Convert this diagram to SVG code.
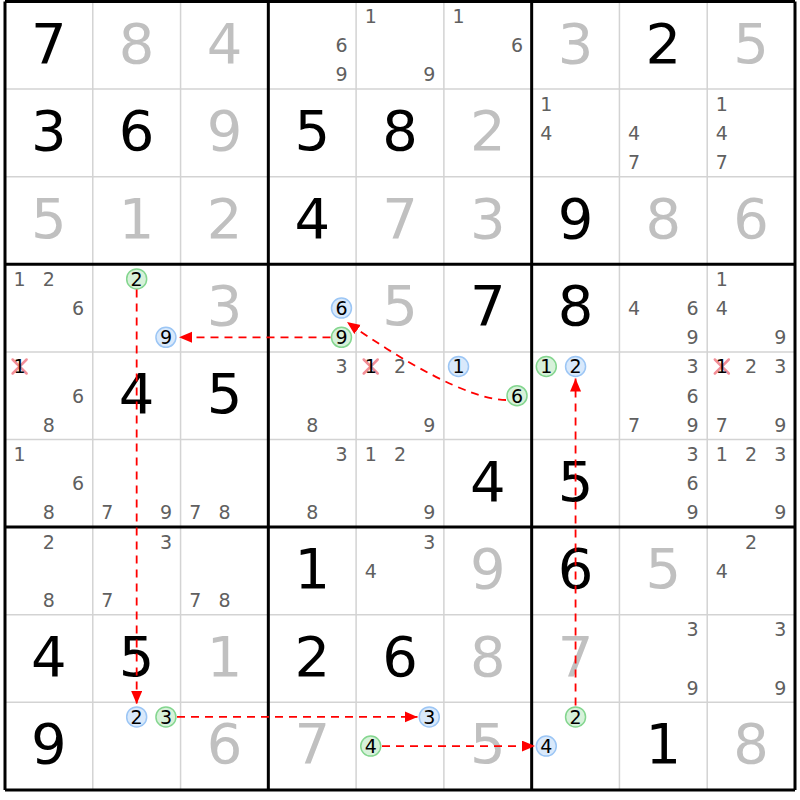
<svg xmlns="http://www.w3.org/2000/svg" width="800" height="800" viewBox="0 0 800 800">
<style>
text{font-family:"DejaVu Sans","Liberation Sans",sans-serif;text-anchor:middle}
.g{font-size:56px;fill:#000}
.s{font-size:56px;fill:#c0c0c0}
.c{font-size:19px;fill:#606060}
.k{font-size:19px;fill:#000}
.thin{stroke:#d3d3d3;stroke-width:1.5}
.thick{stroke:#000;stroke-width:3}
.bl{fill:#d9e9fb;stroke:#9cc6f5;stroke-width:1.5}
.gr{fill:#d7f1da;stroke:#84d68f;stroke-width:1.5}
.x{stroke:#f28e98;stroke-width:2.5;stroke-linecap:round}
.arr{fill:none;stroke:#f00;stroke-width:1.8;stroke-dasharray:8,6;marker-end:url(#ah)}
</style>
<defs>
<marker id="ah" markerUnits="userSpaceOnUse" markerWidth="14" markerHeight="12" refX="13" refY="5.5" orient="auto">
<path d="M0,0 L13,5.5 L0,11 Z" fill="#f00"/>
</marker>
</defs>
<rect x="0" y="0" width="800" height="800" fill="#fff"/>
<g id="grid">
<path class="thin" d="M92.78,1.5V789.9M180.56,1.5V789.9M356.11,1.5V789.9M443.89,1.5V789.9M619.44,1.5V789.9M707.22,1.5V789.9M5,89.1H795M5,176.7H795M5,351.9H795M5,439.5H795M5,614.7H795M5,702.3H795"/>
<path class="thick" d="M5,1.5V789.9M268.33,1.5V789.9M531.67,1.5V789.9M795,1.5V789.9M5,1.5H795M5,264.3H795M5,527.1H795M5,789.9H795"/>
</g>
<g id="r0">
<g id="r0c0"><text class="g" x="48.89" y="62.5">7</text></g>
<g id="r0c1"><text class="s" x="136.67" y="62.5">8</text></g>
<g id="r0c2"><text class="s" x="224.45" y="62.5">4</text></g>
<g id="r0c3"><text class="c" x="341.48" y="52.2">6</text><text class="c" x="341.48" y="81.4">9</text></g>
<g id="r0c4"><text class="c" x="370.74" y="23">1</text><text class="c" x="429.26" y="81.4">9</text></g>
<g id="r0c5"><text class="c" x="458.52" y="23">1</text><text class="c" x="517.04" y="52.2">6</text></g>
<g id="r0c6"><text class="s" x="575.56" y="62.5">3</text></g>
<g id="r0c7"><text class="g" x="663.33" y="62.5">2</text></g>
<g id="r0c8"><text class="s" x="751.11" y="62.5">5</text></g>
</g>
<g id="r1">
<g id="r1c0"><text class="g" x="48.89" y="150.1">3</text></g>
<g id="r1c1"><text class="g" x="136.67" y="150.1">6</text></g>
<g id="r1c2"><text class="s" x="224.45" y="150.1">9</text></g>
<g id="r1c3"><text class="g" x="312.22" y="150.1">5</text></g>
<g id="r1c4"><text class="g" x="400" y="150.1">8</text></g>
<g id="r1c5"><text class="s" x="487.78" y="150.1">2</text></g>
<g id="r1c6"><text class="c" x="546.3" y="110.6">1</text><text class="c" x="546.3" y="139.8">4</text></g>
<g id="r1c7"><text class="c" x="634.07" y="139.8">4</text><text class="c" x="634.07" y="169">7</text></g>
<g id="r1c8"><text class="c" x="721.85" y="110.6">1</text><text class="c" x="721.85" y="139.8">4</text><text class="c" x="721.85" y="169">7</text></g>
</g>
<g id="r2">
<g id="r2c0"><text class="s" x="48.89" y="237.7">5</text></g>
<g id="r2c1"><text class="s" x="136.67" y="237.7">1</text></g>
<g id="r2c2"><text class="s" x="224.45" y="237.7">2</text></g>
<g id="r2c3"><text class="g" x="312.22" y="237.7">4</text></g>
<g id="r2c4"><text class="s" x="400" y="237.7">7</text></g>
<g id="r2c5"><text class="s" x="487.78" y="237.7">3</text></g>
<g id="r2c6"><text class="g" x="575.56" y="237.7">9</text></g>
<g id="r2c7"><text class="s" x="663.33" y="237.7">8</text></g>
<g id="r2c8"><text class="s" x="751.11" y="237.7">6</text></g>
</g>
<g id="r3">
<g id="r3c0"><text class="c" x="19.63" y="285.8">1</text><text class="c" x="48.89" y="285.8">2</text><text class="c" x="78.15" y="315">6</text></g>
<g id="r3c1"><circle class="gr" cx="136.67" cy="278.9" r="10"/><text class="k" x="136.67" y="285.8">2</text><circle class="bl" cx="165.93" cy="337.3" r="10"/><text class="k" x="165.93" y="344.2">9</text></g>
<g id="r3c2"><text class="s" x="224.45" y="325.3">3</text></g>
<g id="r3c3"><circle class="bl" cx="341.48" cy="308.1" r="10"/><text class="k" x="341.48" y="315">6</text><circle class="gr" cx="341.48" cy="337.3" r="10"/><text class="k" x="341.48" y="344.2">9</text></g>
<g id="r3c4"><text class="s" x="400" y="325.3">5</text></g>
<g id="r3c5"><text class="g" x="487.78" y="325.3">7</text></g>
<g id="r3c6"><text class="g" x="575.56" y="325.3">8</text></g>
<g id="r3c7"><text class="c" x="634.07" y="315">4</text><text class="c" x="692.59" y="315">6</text><text class="c" x="692.59" y="344.2">9</text></g>
<g id="r3c8"><text class="c" x="721.85" y="285.8">1</text><text class="c" x="721.85" y="315">4</text><text class="c" x="780.37" y="344.2">9</text></g>
</g>
<g id="r4">
<g id="r4c0"><path class="x" d="M12.6,359.5L26.6,373.5M26.6,359.5L12.6,373.5"/><text class="k" x="19.63" y="373.4">1</text><text class="c" x="78.15" y="402.6">6</text><text class="c" x="48.89" y="431.8">8</text></g>
<g id="r4c1"><text class="g" x="136.67" y="412.9">4</text></g>
<g id="r4c2"><text class="g" x="224.45" y="412.9">5</text></g>
<g id="r4c3"><text class="c" x="341.48" y="373.4">3</text><text class="c" x="312.22" y="431.8">8</text></g>
<g id="r4c4"><path class="x" d="M363.7,359.5L377.7,373.5M377.7,359.5L363.7,373.5"/><text class="k" x="370.74" y="373.4">1</text><text class="c" x="400" y="373.4">2</text><text class="c" x="429.26" y="431.8">9</text></g>
<g id="r4c5"><circle class="bl" cx="458.52" cy="366.5" r="10"/><text class="k" x="458.52" y="373.4">1</text><circle class="gr" cx="517.04" cy="395.7" r="10"/><text class="k" x="517.04" y="402.6">6</text></g>
<g id="r4c6"><circle class="gr" cx="546.3" cy="366.5" r="10"/><text class="k" x="546.3" y="373.4">1</text><circle class="bl" cx="575.56" cy="366.5" r="10"/><text class="k" x="575.56" y="373.4">2</text></g>
<g id="r4c7"><text class="c" x="692.59" y="373.4">3</text><text class="c" x="692.59" y="402.6">6</text><text class="c" x="634.07" y="431.8">7</text><text class="c" x="692.59" y="431.8">9</text></g>
<g id="r4c8"><path class="x" d="M714.8,359.5L728.8,373.5M728.8,359.5L714.8,373.5"/><text class="k" x="721.85" y="373.4">1</text><text class="c" x="751.11" y="373.4">2</text><text class="c" x="780.37" y="373.4">3</text><text class="c" x="721.85" y="431.8">7</text><text class="c" x="780.37" y="431.8">9</text></g>
</g>
<g id="r5">
<g id="r5c0"><text class="c" x="19.63" y="461">1</text><text class="c" x="78.15" y="490.2">6</text><text class="c" x="48.89" y="519.4">8</text></g>
<g id="r5c1"><text class="c" x="107.41" y="519.4">7</text><text class="c" x="165.93" y="519.4">9</text></g>
<g id="r5c2"><text class="c" x="195.19" y="519.4">7</text><text class="c" x="224.45" y="519.4">8</text></g>
<g id="r5c3"><text class="c" x="341.48" y="461">3</text><text class="c" x="312.22" y="519.4">8</text></g>
<g id="r5c4"><text class="c" x="370.74" y="461">1</text><text class="c" x="400" y="461">2</text><text class="c" x="429.26" y="519.4">9</text></g>
<g id="r5c5"><text class="g" x="487.78" y="500.5">4</text></g>
<g id="r5c6"><text class="g" x="575.56" y="500.5">5</text></g>
<g id="r5c7"><text class="c" x="692.59" y="461">3</text><text class="c" x="692.59" y="490.2">6</text><text class="c" x="692.59" y="519.4">9</text></g>
<g id="r5c8"><text class="c" x="721.85" y="461">1</text><text class="c" x="751.11" y="461">2</text><text class="c" x="780.37" y="461">3</text><text class="c" x="780.37" y="519.4">9</text></g>
</g>
<g id="r6">
<g id="r6c0"><text class="c" x="48.89" y="548.6">2</text><text class="c" x="48.89" y="607">8</text></g>
<g id="r6c1"><text class="c" x="165.93" y="548.6">3</text><text class="c" x="107.41" y="607">7</text></g>
<g id="r6c2"><text class="c" x="195.19" y="607">7</text><text class="c" x="224.45" y="607">8</text></g>
<g id="r6c3"><text class="g" x="312.22" y="588.1">1</text></g>
<g id="r6c4"><text class="c" x="429.26" y="548.6">3</text><text class="c" x="370.74" y="577.8">4</text></g>
<g id="r6c5"><text class="s" x="487.78" y="588.1">9</text></g>
<g id="r6c6"><text class="g" x="575.56" y="588.1">6</text></g>
<g id="r6c7"><text class="s" x="663.33" y="588.1">5</text></g>
<g id="r6c8"><text class="c" x="751.11" y="548.6">2</text><text class="c" x="721.85" y="577.8">4</text></g>
</g>
<g id="r7">
<g id="r7c0"><text class="g" x="48.89" y="675.7">4</text></g>
<g id="r7c1"><text class="g" x="136.67" y="675.7">5</text></g>
<g id="r7c2"><text class="s" x="224.45" y="675.7">1</text></g>
<g id="r7c3"><text class="g" x="312.22" y="675.7">2</text></g>
<g id="r7c4"><text class="g" x="400" y="675.7">6</text></g>
<g id="r7c5"><text class="s" x="487.78" y="675.7">8</text></g>
<g id="r7c6"><text class="s" x="575.56" y="675.7">7</text></g>
<g id="r7c7"><text class="c" x="692.59" y="636.2">3</text><text class="c" x="692.59" y="694.6">9</text></g>
<g id="r7c8"><text class="c" x="780.37" y="636.2">3</text><text class="c" x="780.37" y="694.6">9</text></g>
</g>
<g id="r8">
<g id="r8c0"><text class="g" x="48.89" y="763.3">9</text></g>
<g id="r8c1"><circle class="bl" cx="136.67" cy="716.9" r="10"/><text class="k" x="136.67" y="723.8">2</text><circle class="gr" cx="165.93" cy="716.9" r="10"/><text class="k" x="165.93" y="723.8">3</text></g>
<g id="r8c2"><text class="s" x="224.45" y="763.3">6</text></g>
<g id="r8c3"><text class="s" x="312.22" y="763.3">7</text></g>
<g id="r8c4"><circle class="bl" cx="429.26" cy="716.9" r="10"/><text class="k" x="429.26" y="723.8">3</text><circle class="gr" cx="370.74" cy="746.1" r="10"/><text class="k" x="370.74" y="753">4</text></g>
<g id="r8c5"><text class="s" x="487.78" y="763.3">5</text></g>
<g id="r8c6"><circle class="gr" cx="575.56" cy="716.9" r="10"/><text class="k" x="575.56" y="723.8">2</text><circle class="bl" cx="546.3" cy="746.1" r="10"/><text class="k" x="546.3" y="753">4</text></g>
<g id="r8c7"><text class="g" x="663.33" y="763.3">1</text></g>
<g id="r8c8"><text class="s" x="751.11" y="763.3">8</text></g>
</g>
<g id="connectors">
<path class="arr" d="M136.67,289.5V704"/>
<path class="arr" d="M330.5,337.3H179"/>
<path class="arr" d="M506,400 C470,400 400,360 347,322"/>
<path class="arr" d="M177,716.9H417.5"/>
<path class="arr" d="M382,746.1H535"/>
<path class="arr" d="M575.56,705.5V378.5"/>
</g>
</svg>
